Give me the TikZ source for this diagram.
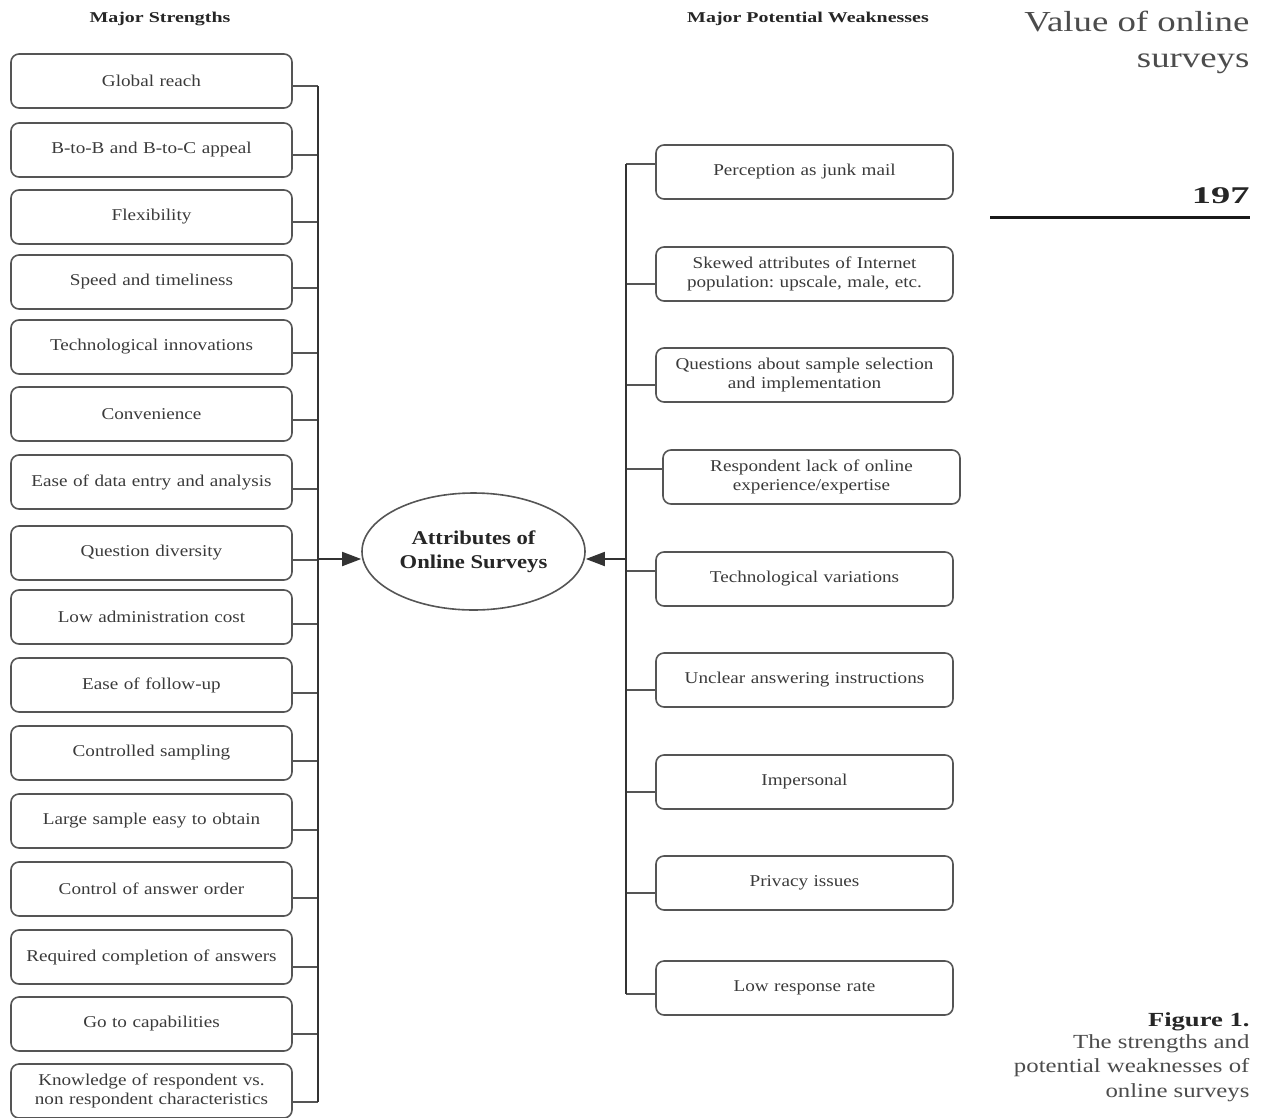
\documentclass[tikz,border=0pt]{standalone}
\usepackage{fontspec}
\setmainfont{Liberation Serif}
% widened serif faces for the labels and page furniture
\newfontfamily\boxserif[FakeStretch=1.16]{Liberation Serif}
\newfontfamily\wideserif[FakeStretch=1.27]{Liberation Serif}
\newfontfamily\capserif[FakeStretch=1.24]{Liberation Serif}
\newfontfamily\headserif[FakeStretch=1.33]{Liberation Serif}
\newfontfamily\folioserif[FakeStretch=1.6]{Liberation Serif}
\usetikzlibrary{arrows.meta,shapes.geometric}
\definecolor{ink}{HTML}{3A3A3A}
\definecolor{edge}{HTML}{555555}
\definecolor{bus}{HTML}{333333}
\tikzset{
  every picture/.style={x=1pt,y=-1pt},
  itembox/.style={draw=edge, line width=1.6pt, rounded corners=8pt,
    minimum height=54pt, align=center, text=ink,
    font=\frenchspacing\boxserif\fontsize{16.5}{21}\selectfont},
  lbox/.style={itembox, minimum width=281pt, text width=272pt},
  rbox/.style={itembox, minimum width=297pt, text width=288pt},
  busline/.style={draw=bus, line width=2.2pt},
  stub/.style={draw=edge, line width=1.6pt},
  head/.style={font=\headserif\bfseries\fontsize{15}{18}\selectfont, text=black!85},
  tip/.style={-{Triangle[length=19pt,width=14pt]}, draw=bus, line width=1.8pt},
  capline/.style={anchor=base east, text=black!70,
    font=\capserif\fontsize{20}{24}\selectfont}
}
\begin{document}
\begin{tikzpicture}
\useasboundingbox (0,0) rectangle (1267,1117);

% column headings
\node[head] at (160,19) {Major Strengths};
\node[head] at (808,19) {Major Potential Weaknesses};

% central ellipse
\node[ellipse, draw=edge, line width=1.6pt, minimum width=223pt, minimum height=117pt,
      align=center, font=\boxserif\bfseries\fontsize{19.5}{24}\selectfont, text=black!85]
      (core) at (473.5,551.5) {Attributes of\\Online Surveys};

% strengths
\foreach \i/\y/\d/\t in {
  1/81/5/{Global reach},
  2/150/5/{B-to-B and B-to-C appeal},
  3/217/5/{Flexibility},
  4/282/6/{Speed and timeliness},
  5/347/6/{Technological innovations},
  6/414/6/{Convenience},
  7/482/7/{Ease of data entry and analysis},
  8/553/7/{Question diversity},
  9/617/7/{Low administration cost},
  10/685/8/{Ease of follow-up},
  11/753/8/{Controlled sampling},
  12/821/9/{Large sample easy to obtain},
  13/889/9/{Control of answer order},
  14/957/10/{Required completion of answers},
  15/1024/10/{Go to capabilities},
  16/1091/11/{Knowledge of respondent vs.\\[-2pt]non respondent characteristics}}
{
  \node[lbox] (s\i) at (151.5,\y) {\t};
  \coordinate (sj\i) at (318,\y+\d);
  \draw[stub] (s\i.east |- sj\i) -- (sj\i);
}
\draw[busline] (sj1) -- (sj16);
\coordinate (lin) at (318,559);
\draw[tip] (lin) -- (core.west |- lin);

% weaknesses
\foreach \i/\x/\y/\d/\t in {
  1/804.5/172/-8/{Perception as junk mail},
  2/804.5/274/10/{Skewed attributes of Internet\\[-2pt]population: upscale, male, etc.},
  3/804.5/375/10/{Questions about sample selection\\[-2pt]and implementation},
  4/811.5/477/-8/{Respondent lack of online\\[-2pt]experience/expertise},
  5/804.5/579/-8/{Technological variations},
  6/804.5/680/10/{Unclear answering instructions},
  7/804.5/782/10/{Impersonal},
  8/804.5/883/10/{Privacy issues},
  9/804.5/988/6/{Low response rate}}
{
  \node[rbox] (w\i) at (\x,\y) {\t};
  \coordinate (wj\i) at (626,\y+\d);
  \draw[stub] (wj\i) -- (w\i.west |- wj\i);
}
\draw[busline] (wj1) -- (wj9);
\coordinate (rin) at (626,559);
\draw[tip] (rin) -- (core.east |- rin);

% running head and page number
\node[anchor=base east, text=black!70, font=\wideserif\fontsize{29}{36}\selectfont]
      (runhead) at (1253,31) {Value of online};
\node[anchor=base east, text=black!70, font=\wideserif\fontsize{29}{36}\selectfont]
      (runhead2) at (1253,67) {surveys};
\node[anchor=base east, font=\folioserif\bfseries\fontsize{24}{30}\selectfont, text=black!85]
      (page) at (1253,203) {197};
\coordinate (ruleL) at (990,217);
\coordinate (ruleR) at (1250,217);
\draw[line width=3pt, black!90] (ruleL) -- (ruleR);

% caption
\node[capline, font=\headserif\bfseries\fontsize{20}{24}\selectfont, text=black!85]
      (cap1) at (1253,1026) {Figure 1.};
\node[capline] (cap2) at (1253,1048) {The strengths and};
\node[capline] (cap3) at (1253,1072) {potential weaknesses of};
\node[capline] (cap4) at (1253,1097) {online surveys};
\end{tikzpicture}
\end{document}
